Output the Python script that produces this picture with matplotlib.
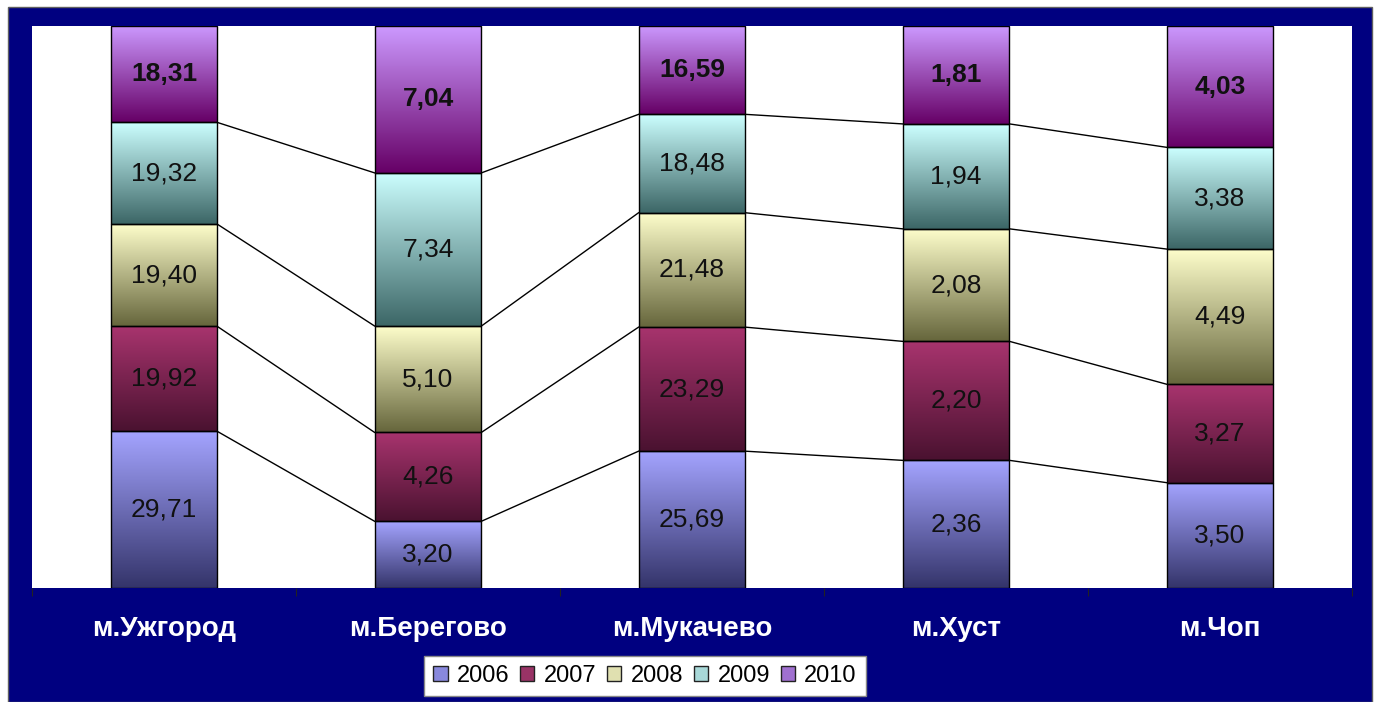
import numpy as np
import matplotlib.pyplot as plt
from matplotlib.colors import LinearSegmentedColormap
from matplotlib.patches import Rectangle

plt.rcParams['font.family'] = ['Liberation Sans', 'DejaVu Sans']

cities = ['м.Ужгород', 'м.Берегово', 'м.Мукачево', 'м.Хуст', 'м.Чоп']
years = ['2006', '2007', '2008', '2009', '2010']
v2006 = [29.71, 3.20, 25.69, 2.36, 3.50]
v2007 = [19.92, 4.26, 23.29, 2.20, 3.27]
v2008 = [19.40, 5.10, 21.48, 2.08, 4.49]
v2009 = [19.32, 7.34, 18.48, 1.94, 3.38]
v2010 = [18.31, 7.04, 16.59, 1.81, 4.03]

# light (top) / dark (bottom) gradient ends per series
light = ['#a4a4ff', '#a8346e', '#ffffcc', '#ccffff', '#cc99ff']
dark = ['#34346a', '#4a1230', '#66663c', '#3c6666', '#660066']
legend_cols = ['#8888dd', '#993366', '#e0e0b0', '#a8d8d8', '#a070d0']

series = np.array([v2006, v2007, v2008, v2009, v2010])
pct = series / series.sum(axis=0) * 100
bottoms = np.vstack([np.zeros(5), np.cumsum(pct, axis=0)[:-1]])
tops = bottoms + pct

fig = plt.figure(figsize=(13.78, 7.02), dpi=100)
fig.patch.set_facecolor('white')
fig.patches.append(Rectangle((8 / 1378, 0), 1364 / 1378, 695 / 702,
                             transform=fig.transFigure, facecolor='#000080',
                             edgecolor='#606060', lw=1, zorder=-10))

ax = fig.add_axes([32 / 1378, 114 / 702, 1320 / 1378, 562 / 702])
ax.set_facecolor('white')

x = np.arange(len(cities))
w = 0.405
grad = np.linspace(0, 1, 256).reshape(-1, 1)

for s in range(5):
    cmap = LinearSegmentedColormap.from_list('g%d' % s, [dark[s], light[s]])
    for i in range(5):
        ax.imshow(grad, cmap=cmap, origin='lower', aspect='auto',
                  extent=[x[i] - w / 2, x[i] + w / 2, bottoms[s][i], tops[s][i]],
                  zorder=2)
    ax.bar(x, pct[s], w, bottom=bottoms[s], facecolor='none',
           edgecolor='black', lw=1, zorder=3)
    for i in range(5):
        txt = '%.2f' % series[s][i]
        ax.text(x[i], bottoms[s][i] + pct[s][i] / 2, txt.replace('.', ','),
                ha='center', va='center', fontsize=19, color='#111111',
                fontweight='bold' if s == 4 else 'normal', zorder=4)

# series lines between bars
for s in range(4):
    for i in range(4):
        ax.plot([x[i] + w / 2, x[i + 1] - w / 2], [tops[s][i], tops[s][i + 1]],
                color='black', lw=1, zorder=1)

ax.set_xlim(-0.5, 4.5)
ax.set_ylim(0, 100)
ax.set_yticks([])
ax.set_xticks(np.arange(-0.5, 5, 1))
ax.set_xticklabels([])
ax.tick_params(axis='x', length=6, color='#222222', direction='out')
ax.set_xticks(x, minor=True)
ax.set_xticklabels(cities, minor=True, color='white', fontsize=20,
                   fontweight='bold')
ax.tick_params(axis='x', which='minor', length=0, pad=20)
for sp in ax.spines.values():
    sp.set_visible(False)

handles = [Rectangle((0, 0), 1, 1, facecolor=legend_cols[s], edgecolor='#222222')
           for s in range(5)]
leg = fig.legend(handles, years, loc='center', bbox_to_anchor=(645 / 1378, 1 - 676 / 702),
                 ncol=5, fontsize=17, frameon=True, fancybox=False,
                 handlelength=0.6, handleheight=0.6, handletextpad=0.4,
                 columnspacing=0.45, borderpad=0.4)
leg.get_frame().set_facecolor('white')
leg.get_frame().set_alpha(1)
leg.get_frame().set_edgecolor('#888888')
leg.get_frame().set_linewidth(1)

fig.savefig('out.png', dpi=100)
